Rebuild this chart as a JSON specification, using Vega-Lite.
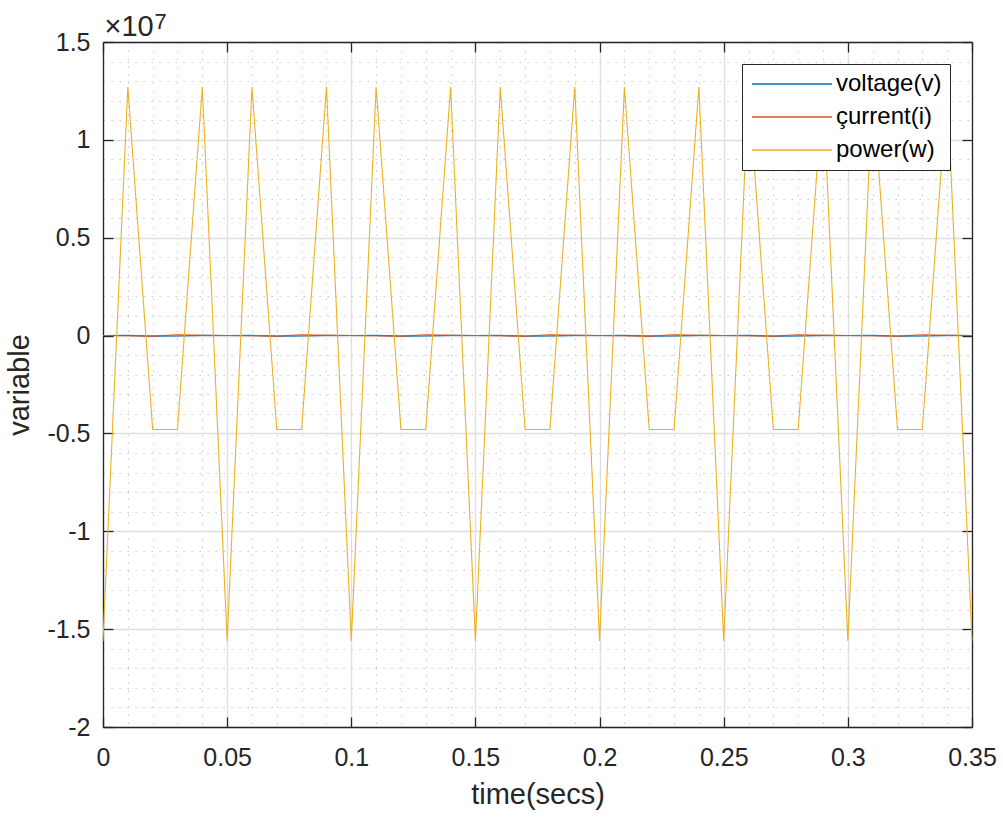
{
  "$schema": "https://vega.github.io/schema/vega-lite/v6.json",
  "width": 869,
  "height": 685,
  "autosize": {"type": "none"},
  "padding": {"left": 103, "top": 42, "right": 31, "bottom": 90},
  "background": "white",
  "config": {
    "view": {"stroke": null},
    "axis": {"labelFont": "Liberation Sans", "titleFont": "Liberation Sans", "labelColor": "#262626", "titleColor": "#262626", "domainColor": "#262626", "tickColor": "#262626", "titleFontWeight": "normal", "labelFlush": false, "labelOverlap": false}
  },
  "data": {"values": [
    {"t": 0, "series": "voltage(v)", "value": 0},
    {"t": 0.01, "series": "voltage(v)", "value": 10000},
    {"t": 0.02, "series": "voltage(v)", "value": -30000},
    {"t": 0.03, "series": "voltage(v)", "value": -20000},
    {"t": 0.04, "series": "voltage(v)", "value": 10000},
    {"t": 0.05, "series": "voltage(v)", "value": 0},
    {"t": 0.06, "series": "voltage(v)", "value": 10000},
    {"t": 0.07, "series": "voltage(v)", "value": -30000},
    {"t": 0.08, "series": "voltage(v)", "value": -20000},
    {"t": 0.09, "series": "voltage(v)", "value": 10000},
    {"t": 0.1, "series": "voltage(v)", "value": 0},
    {"t": 0.11, "series": "voltage(v)", "value": 10000},
    {"t": 0.12, "series": "voltage(v)", "value": -30000},
    {"t": 0.13, "series": "voltage(v)", "value": -20000},
    {"t": 0.14, "series": "voltage(v)", "value": 10000},
    {"t": 0.15, "series": "voltage(v)", "value": 0},
    {"t": 0.16, "series": "voltage(v)", "value": 10000},
    {"t": 0.17, "series": "voltage(v)", "value": -30000},
    {"t": 0.18, "series": "voltage(v)", "value": -20000},
    {"t": 0.19, "series": "voltage(v)", "value": 10000},
    {"t": 0.2, "series": "voltage(v)", "value": 0},
    {"t": 0.21, "series": "voltage(v)", "value": 10000},
    {"t": 0.22, "series": "voltage(v)", "value": -30000},
    {"t": 0.23, "series": "voltage(v)", "value": -20000},
    {"t": 0.24, "series": "voltage(v)", "value": 10000},
    {"t": 0.25, "series": "voltage(v)", "value": 0},
    {"t": 0.26, "series": "voltage(v)", "value": 10000},
    {"t": 0.27, "series": "voltage(v)", "value": -30000},
    {"t": 0.28, "series": "voltage(v)", "value": -20000},
    {"t": 0.29, "series": "voltage(v)", "value": 10000},
    {"t": 0.3, "series": "voltage(v)", "value": 0},
    {"t": 0.31, "series": "voltage(v)", "value": 10000},
    {"t": 0.32, "series": "voltage(v)", "value": -30000},
    {"t": 0.33, "series": "voltage(v)", "value": -20000},
    {"t": 0.34, "series": "voltage(v)", "value": 10000},
    {"t": 0.35, "series": "voltage(v)", "value": 0},
    {"t": 0, "series": "çurrent(i)", "value": 0},
    {"t": 0.01, "series": "çurrent(i)", "value": -10000},
    {"t": 0.02, "series": "çurrent(i)", "value": -30000},
    {"t": 0.03, "series": "çurrent(i)", "value": 40000},
    {"t": 0.04, "series": "çurrent(i)", "value": 10000},
    {"t": 0.05, "series": "çurrent(i)", "value": 0},
    {"t": 0.06, "series": "çurrent(i)", "value": -10000},
    {"t": 0.07, "series": "çurrent(i)", "value": -30000},
    {"t": 0.08, "series": "çurrent(i)", "value": 40000},
    {"t": 0.09, "series": "çurrent(i)", "value": 10000},
    {"t": 0.1, "series": "çurrent(i)", "value": 0},
    {"t": 0.11, "series": "çurrent(i)", "value": -10000},
    {"t": 0.12, "series": "çurrent(i)", "value": -30000},
    {"t": 0.13, "series": "çurrent(i)", "value": 40000},
    {"t": 0.14, "series": "çurrent(i)", "value": 10000},
    {"t": 0.15, "series": "çurrent(i)", "value": 0},
    {"t": 0.16, "series": "çurrent(i)", "value": -10000},
    {"t": 0.17, "series": "çurrent(i)", "value": -30000},
    {"t": 0.18, "series": "çurrent(i)", "value": 40000},
    {"t": 0.19, "series": "çurrent(i)", "value": 10000},
    {"t": 0.2, "series": "çurrent(i)", "value": 0},
    {"t": 0.21, "series": "çurrent(i)", "value": -10000},
    {"t": 0.22, "series": "çurrent(i)", "value": -30000},
    {"t": 0.23, "series": "çurrent(i)", "value": 40000},
    {"t": 0.24, "series": "çurrent(i)", "value": 10000},
    {"t": 0.25, "series": "çurrent(i)", "value": 0},
    {"t": 0.26, "series": "çurrent(i)", "value": -10000},
    {"t": 0.27, "series": "çurrent(i)", "value": -30000},
    {"t": 0.28, "series": "çurrent(i)", "value": 40000},
    {"t": 0.29, "series": "çurrent(i)", "value": 10000},
    {"t": 0.3, "series": "çurrent(i)", "value": 0},
    {"t": 0.31, "series": "çurrent(i)", "value": -10000},
    {"t": 0.32, "series": "çurrent(i)", "value": -30000},
    {"t": 0.33, "series": "çurrent(i)", "value": 40000},
    {"t": 0.34, "series": "çurrent(i)", "value": 10000},
    {"t": 0.35, "series": "çurrent(i)", "value": 0},
    {"t": 0, "series": "power(w)", "value": -15600000},
    {"t": 0.01, "series": "power(w)", "value": 12700000},
    {"t": 0.02, "series": "power(w)", "value": -4800000},
    {"t": 0.03, "series": "power(w)", "value": -4800000},
    {"t": 0.04, "series": "power(w)", "value": 12700000},
    {"t": 0.05, "series": "power(w)", "value": -15600000},
    {"t": 0.06, "series": "power(w)", "value": 12700000},
    {"t": 0.07, "series": "power(w)", "value": -4800000},
    {"t": 0.08, "series": "power(w)", "value": -4800000},
    {"t": 0.09, "series": "power(w)", "value": 12700000},
    {"t": 0.1, "series": "power(w)", "value": -15600000},
    {"t": 0.11, "series": "power(w)", "value": 12700000},
    {"t": 0.12, "series": "power(w)", "value": -4800000},
    {"t": 0.13, "series": "power(w)", "value": -4800000},
    {"t": 0.14, "series": "power(w)", "value": 12700000},
    {"t": 0.15, "series": "power(w)", "value": -15600000},
    {"t": 0.16, "series": "power(w)", "value": 12700000},
    {"t": 0.17, "series": "power(w)", "value": -4800000},
    {"t": 0.18, "series": "power(w)", "value": -4800000},
    {"t": 0.19, "series": "power(w)", "value": 12700000},
    {"t": 0.2, "series": "power(w)", "value": -15600000},
    {"t": 0.21, "series": "power(w)", "value": 12700000},
    {"t": 0.22, "series": "power(w)", "value": -4800000},
    {"t": 0.23, "series": "power(w)", "value": -4800000},
    {"t": 0.24, "series": "power(w)", "value": 12700000},
    {"t": 0.25, "series": "power(w)", "value": -15600000},
    {"t": 0.26, "series": "power(w)", "value": 12700000},
    {"t": 0.27, "series": "power(w)", "value": -4800000},
    {"t": 0.28, "series": "power(w)", "value": -4800000},
    {"t": 0.29, "series": "power(w)", "value": 12700000},
    {"t": 0.3, "series": "power(w)", "value": -15600000},
    {"t": 0.31, "series": "power(w)", "value": 12700000},
    {"t": 0.32, "series": "power(w)", "value": -4800000},
    {"t": 0.33, "series": "power(w)", "value": -4800000},
    {"t": 0.34, "series": "power(w)", "value": 12700000},
    {"t": 0.35, "series": "power(w)", "value": -15600000}
  ]},
  "layer": [
    {
      "mark": {"type": "line", "opacity": 0},
      "encoding": {
        "x": {"field": "t", "type": "quantitative", "scale": {"domain": [0, 0.35], "nice": false, "zero": false},
          "axis": {"orient": "bottom", "values": [0.01,0.02,0.03,0.04,0.06,0.07,0.08,0.09,0.11,0.12,0.13,0.14,0.16,0.17,0.18,0.19,0.21,0.22,0.23,0.24,0.26,0.27,0.28,0.29,0.31,0.32,0.33,0.34], "grid": true, "gridColor": "#c8c8c8", "gridDash": [1.5, 6.5], "gridWidth": 1, "ticks": false, "labels": false, "domain": false, "title": null}},
        "y": {"field": "value", "type": "quantitative", "scale": {"domain": [-20000000, 15000000], "nice": false, "zero": false},
          "axis": {"orient": "left", "values": [-19000000,-18000000,-17000000,-16000000,-14000000,-13000000,-12000000,-11000000,-9000000,-8000000,-7000000,-6000000,-4000000,-3000000,-2000000,-1000000,1000000,2000000,3000000,4000000,6000000,7000000,8000000,9000000,11000000,12000000,13000000,14000000], "grid": true, "gridColor": "#c8c8c8", "gridDash": [1.5, 6.5], "gridWidth": 1, "ticks": false, "labels": false, "domain": false, "title": null}}
      }
    },
    {
      "mark": {"type": "line", "opacity": 0},
      "encoding": {
        "x": {"field": "t", "type": "quantitative",
          "axis": {"orient": "top", "values": [0,0.05,0.1,0.15,0.2,0.25,0.3,0.35], "grid": false, "ticks": true, "tickSize": -10, "tickWidth": 1.3, "labels": false, "domain": true, "domainWidth": 1.3,
            "title": "×10", "titleFontSize": 29, "titleFont": "Liberation Sans", "titleColor": "#262626", "titleAnchor": "start", "titleAlign": "left", "titleBaseline": "alphabetic", "titleX": 1, "titleY": -7, "titleAngle": 0}},
        "y": {"field": "value", "type": "quantitative",
          "axis": {"orient": "right", "values": [-20000000,-15000000,-10000000,-5000000,0,5000000,10000000,15000000], "grid": false, "ticks": true, "tickSize": -10, "tickWidth": 1.3, "labels": false, "domain": true, "domainWidth": 1.3,
            "title": "7", "titleFontSize": 22, "titleFont": "Liberation Sans", "titleColor": "#262626", "titleAnchor": "start", "titleAlign": "left", "titleBaseline": "alphabetic", "titleX": -818, "titleY": -14, "titleAngle": 0}}
      }
    },
    {
      "mark": {"type": "line", "strokeWidth": 1.1},
      "encoding": {
        "x": {"field": "t", "type": "quantitative",
          "axis": {"orient": "bottom", "values": [0,0.05,0.1,0.15,0.2,0.25,0.3,0.35], "labelExpr": "'' + datum.value", "grid": true, "gridColor": "#dedede", "gridWidth": 1.3, "ticks": true, "tickSize": -10, "tickWidth": 1.3, "domainWidth": 1.3, "labelFontSize": 25, "labelPadding": 28, "title": "time(secs)", "titleFontSize": 29, "titlePadding": 10}},
        "y": {"field": "value", "type": "quantitative",
          "axis": {"orient": "left", "values": [-20000000,-15000000,-10000000,-5000000,0,5000000,10000000,15000000], "labelExpr": "'' + datum.value / 10000000", "grid": true, "gridColor": "#dedede", "gridWidth": 1.3, "ticks": true, "tickSize": -10, "tickWidth": 1.3, "domainWidth": 1.3, "labelFontSize": 25, "labelPadding": 23, "title": "variable", "titleFontSize": 29, "titlePadding": 12}},
        "color": {"field": "series", "type": "nominal",
          "scale": {"domain": ["voltage(v)", "çurrent(i)", "power(w)"], "range": ["#0072BD", "#D95319", "#EDB120"]},
          "legend": {"orient": "none", "legendX": 639, "legendY": 22, "title": null, "fillColor": "white", "strokeColor": "#262626", "padding": 8, "symbolType": "M-1,0H7", "symbolSize": 400, "symbolStrokeWidth": 1.5, "labelFont": "Liberation Sans", "labelFontSize": 24, "labelColor": "#000000", "labelOffset": 62, "rowPadding": 9, "cornerRadius": 0}}
      }
    }
  ],
  "resolve": {"axis": {"x": "independent", "y": "independent"}}
}
